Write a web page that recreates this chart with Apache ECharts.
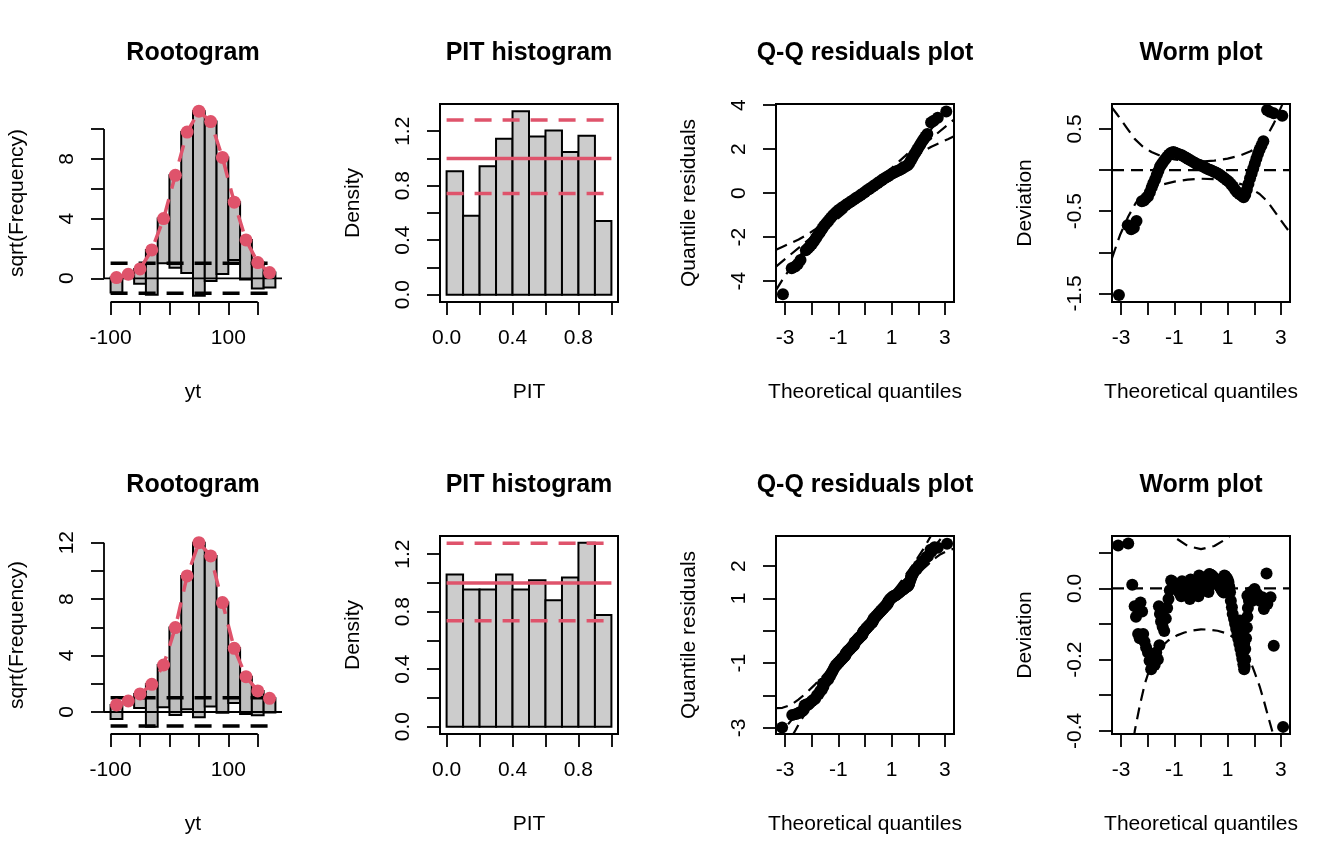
<!DOCTYPE html>
<html><head><meta charset="utf-8">
<script src="https://cdn.jsdelivr.net/npm/echarts/dist/echarts.min.js"></script>
<style>html,body{margin:0;padding:0;background:#fff;}#c{width:1344px;height:864px;}</style>
</head><body><div id="c"></div>
<script>
// ---------- Rootogram data ----------
const rootBinCenters = [-90,-70,-50,-30,-10,10,30,50,70,90,110,130,150,170];
const rootBinWidth = 20;
const rootSqrtObserved = [1,0,1,3,3,6.2,9.45,12.37,10.68,7.81,3.87,2.65,1.73,1];
const rootSqrtExpected1 = [0.05,0.27,0.63,1.9,4.0,6.9,9.8,11.2,10.5,8.1,5.1,2.57,1.05,0.38];
const rootSqrtExpected2 = [0.50,0.78,1.28,1.96,3.33,5.98,9.64,12.0,11.06,7.75,4.51,2.50,1.49,0.97];
const rootRefLevels = [-1, 1];
const rootXTicks = [-100,-50,0,50,100,150];
const rootXLabels = [-100,100];
const rootYTicks1 = [0,2,4,6,8,10];
const rootYLabels1 = [0,4,8];
const rootYTicks2 = [0,2,4,6,8,10,12];
const rootYLabels2 = [0,4,8,12];

// ---------- PIT histogram data ----------
const pitBinCenters = [0.05,0.15,0.25,0.35,0.45,0.55,0.65,0.75,0.85,0.95];
const pitBinWidth = 0.1;
const pitDensity1 = [0.906,0.579,0.942,1.144,1.346,1.161,1.205,1.047,1.166,0.540];
const pitDensity2 = [1.059,0.954,0.954,1.059,0.954,1.019,0.880,1.038,1.279,0.776];
const pitRef = 1;
const pitCI1 = [0.742,1.283];
const pitCI2 = [0.737,1.276];
const pitXTicks = [0,0.2,0.4,0.6,0.8,1.0];
const pitXLabels = [0,0.4,0.8];
const pitYTicks = [0,0.2,0.4,0.6,0.8,1.0,1.2];
const pitYLabels = [0,0.4,0.8,1.2];

// ---------- Residuals (theoretical quantile, deviation) ----------
const theo1 = [-3.08,-2.75,-2.62,-2.52,-2.42,-2.22,-2.14,-2.06,-1.99,-1.92,-1.85,-1.79,-1.72,-1.66,-1.60,-1.54,-1.48,-1.42,-1.35,-1.28,-1.20,-1.12,-1.04,-0.96,-0.88,-0.80,-0.72,-0.64,-0.56,-0.48,-0.40,-0.32,-0.24,-0.16,-0.08,0.00,0.08,0.16,0.24,0.32,0.40,0.48,0.56,0.64,0.72,0.80,0.88,0.96,1.04,1.12,1.20,1.28,1.36,1.44,1.52,1.60,1.66,1.72,1.78,1.84,1.90,1.96,2.02,2.08,2.14,2.20,2.27,2.34,2.48,2.58,2.73,3.05];
const dev1 = [-1.52,-0.67,-0.72,-0.70,-0.62,-0.38,-0.37,-0.34,-0.32,-0.27,-0.21,-0.16,-0.11,-0.06,-0.01,0.04,0.07,0.10,0.13,0.16,0.19,0.21,0.22,0.21,0.20,0.19,0.18,0.165,0.15,0.135,0.12,0.105,0.09,0.075,0.065,0.055,0.045,0.03,0.015,0.005,-0.005,-0.02,-0.03,-0.045,-0.06,-0.08,-0.10,-0.12,-0.14,-0.17,-0.20,-0.24,-0.27,-0.29,-0.31,-0.33,-0.30,-0.24,-0.17,-0.10,-0.04,0.02,0.08,0.14,0.20,0.25,0.30,0.35,0.73,0.71,0.69,0.66];

const theo2 = [-3.11,-2.73,-2.58,-2.49,-2.44,-2.27,-2.21,-2.36,-2.30,-2.17,-2.12,-2.06,-1.99,-1.93,-1.87,-1.80,-1.74,-1.68,-1.62,-1.56,-1.58,-1.54,-1.50,-1.44,-1.38,-1.32,-1.27,-1.22,-1.17,
  -1.12,-1.09,-1.06,-1.03,-1.00,-0.97,-0.94,-0.91,-0.88,-0.85,-0.82,-0.79,-0.76,-0.74,-0.73,-0.72,
  -0.71,-0.68,-0.65,-0.62,-0.59,-0.56,-0.53,-0.50,-0.47,-0.44,-0.42,-0.41,-0.40,
  -0.39,-0.36,-0.33,-0.30,-0.27,-0.24,-0.21,-0.18,-0.15,-0.12,-0.10,-0.09,-0.08,
  -0.07,-0.04,-0.01,0.02,0.05,0.08,0.11,0.14,0.17,0.20,0.23,0.26,0.28,0.29,0.30,
  0.31,0.34,0.37,0.40,0.43,0.46,0.49,0.52,0.55,0.58,0.61,0.64,0.67,0.70,0.73,0.76,0.79,0.82,0.85,0.86,0.87,
  0.88,0.91,0.94,0.97,1.00,1.03,
  1.06,1.09,1.12,1.16,1.19,1.24,1.28,1.32,1.37,1.40,1.44,1.48,1.52,1.55,1.59,1.62,
  1.46,1.50,1.54,1.58,1.62,1.64,1.66,
  1.66,1.69,1.72,1.74,1.76,1.74,1.80,1.86,1.93,2.01,2.11,2.21,2.30,2.36,2.49,2.61,2.46,2.73,3.08];
const dev2 = [0.120,0.126,0.010,-0.050,-0.080,-0.040,-0.065,-0.128,-0.140,-0.128,-0.150,-0.166,-0.180,-0.203,-0.227,-0.194,-0.215,-0.180,-0.200,-0.160,-0.050,-0.072,-0.093,-0.108,-0.120,-0.085,-0.055,-0.030,-0.005,
  0.022,0.020,0.017,0.014,0.011,0.008,0.005,0.002,-0.002,-0.006,-0.010,-0.014,-0.018,-0.022,-0.005,0.010,
  0.020,0.016,0.012,0.008,0.004,0.000,-0.005,-0.010,-0.016,-0.022,-0.030,-0.012,0.008,
  0.025,0.021,0.017,0.013,0.009,0.005,0.000,-0.005,-0.010,-0.016,-0.022,-0.005,0.015,
  0.036,0.033,0.030,0.027,0.024,0.021,0.018,0.014,0.010,0.006,0.002,-0.004,-0.010,0.008,0.025,
  0.040,0.039,0.038,0.036,0.034,0.032,0.030,0.027,0.024,0.021,0.018,0.014,0.010,0.006,0.002,-0.002,-0.006,-0.009,-0.012,0.005,0.020,
  0.036,0.034,0.031,0.028,0.024,0.018,
  0.005,-0.011,-0.035,-0.053,-0.072,-0.086,-0.100,-0.114,-0.128,-0.142,-0.156,-0.170,-0.184,-0.198,-0.213,-0.227,
  -0.090,-0.110,-0.125,-0.140,-0.155,-0.220,-0.200,
  -0.170,-0.140,-0.110,-0.080,-0.055,-0.021,-0.035,-0.011,-0.035,-0.002,-0.016,-0.035,-0.025,-0.058,-0.044,-0.025,0.042,-0.161,-0.389];

// confidence curves (deviation scale)
const upper1X = [-3.34,-3.13,-2.8,-2.49,-2.2,-1.86,-1.5,-1.0,-0.5,0,0.5,1.0,1.5,1.86,2.11,2.45,2.73,3.04,3.34];
const upper1Y = [0.76,0.67,0.52,0.38,0.29,0.22,0.17,0.13,0.11,0.105,0.115,0.14,0.18,0.23,0.28,0.40,0.565,0.79,1.07];
const lower1X = [-3.34,-3.04,-2.73,-2.45,-2.11,-1.86,-1.5,-1.0,-0.5,0,0.5,1.0,1.5,1.86,2.2,2.49,2.8,3.13,3.34];
const lower1Y = [-1.07,-0.79,-0.565,-0.40,-0.28,-0.23,-0.18,-0.14,-0.115,-0.105,-0.11,-0.13,-0.17,-0.22,-0.29,-0.38,-0.52,-0.67,-0.76];
const upper2X = [-3.34,-3.1,-2.8,-2.5,-2.2,-1.9,-1.6,-1.3,-1.06,-0.5,0,0.5,1.0,1.3,1.6,1.9,2.2,2.5,2.8,3.1,3.34];
const upper2Y = [0.95,0.72,0.50,0.37,0.28,0.22,0.18,0.16,0.147,0.119,0.11,0.119,0.141,0.165,0.20,0.26,0.34,0.47,0.62,0.80,1.0];
const lower2X = [-3.34,-3.1,-2.8,-2.6,-2.485,-2.3,-2.112,-1.9,-1.739,-1.5,-1.242,-0.9,-0.621,-0.3,0,0.3,0.621,0.9,1.118,1.4,1.615,1.8,1.988,2.2,2.36,2.52,2.67,2.8,3.1,3.34];
const lower2Y = [-0.95,-0.75,-0.55,-0.46,-0.40,-0.33,-0.269,-0.22,-0.19,-0.165,-0.147,-0.132,-0.124,-0.118,-0.115,-0.116,-0.119,-0.125,-0.133,-0.15,-0.166,-0.195,-0.231,-0.275,-0.316,-0.36,-0.40,-0.45,-0.62,-0.80];

const qqXTicks = [-3,-2,-1,0,1,2,3];
const qqXLabels = [-3,-1,1,3];
const qqYTicks1 = [-4,-2,0,2,4];
const qqYLabels1 = [-4,-2,0,2,4];
const qqYTicks2 = [-3,-2,-1,0,1,2];
const qqYLabels2 = [-3,-1,1,2];
const wormYTicks1 = [-1.5,-1,-0.5,0,0.5];
const wormYLabels1 = [-1.5,-0.5,0.5];
const wormYTicks2 = [-0.4,-0.3,-0.2,-0.1,0,0.1];
const wormYLabels2 = [-0.4,-0.2,0];

// ---------- axis limits ----------
const rootXRange = [-111.2,191.2];
const rootYRange1 = [-1.59,11.68];
const rootYRange2 = [-1.56,12.47];
const pitXRange = [-0.04,1.04];
const pitYRange1 = [-0.054,1.4];
const pitYRange2 = [-0.051,1.326];
const qqXRange = [-3.34,3.34];
const qqYRange1 = [-4.95,4.05];
const qqYRange2 = [-3.19,2.93];
const wormYRange1 = [-1.604,0.804];
const wormYRange2 = [-0.409,0.147];

// ---------- build ----------
const FONT = '"Liberation Sans", Arial, Helvetica, sans-serif';
const FS = 21;
const RED = '#DF536B';
const grids = [], xAxes = [], yAxes = [], series = [], graphics = [];
const fInt = v => String(v);
const f1 = v => Number(v).toFixed(1);

function axis(isY, gi, range, ticks, labels, fmt, name) {
  return {
    type: 'value', gridIndex: gi, min: range[0], max: range[1],
    position: isY ? 'left' : 'bottom',
    axisLine: {show: false, onZero: false}, splitLine: {show: false},
    axisTick: {show: true, inside: false, length: 13, lineStyle: {color: '#000', width: 1.8}, customValues: ticks},
    axisLabel: {show: true, customValues: labels, formatter: fmt, color: '#000', fontSize: FS, fontFamily: FONT, margin: 26, rotate: isY ? 90 : 0},
    name: name, nameLocation: 'middle', nameGap: isY ? 76 : 80, nameRotate: isY ? 90 : 0,
    nameTextStyle: {color: '#000', fontSize: FS, fontFamily: FONT}
  };
}

function addPanel(r, c, cfg) {
  const gi = grids.length;
  grids.push({left: 336*c + 104, top: 432*r + 104, width: 178, height: 198,
    show: !!cfg.box, borderColor: '#000', borderWidth: 2, backgroundColor: 'rgba(0,0,0,0)'});
  xAxes.push(axis(false, gi, cfg.xRange, cfg.xTicks, cfg.xLabels, cfg.xFmt, cfg.xName));
  yAxes.push(axis(true, gi, cfg.yRange, cfg.yTicks, cfg.yLabels, cfg.yFmt, cfg.yName));
  graphics.push({type: 'text', x: 336*c + 193, y: 432*r + 53, z: 10,
    style: {text: cfg.title, font: 'bold 25px ' + FONT, fill: '#000',
      align: 'center', verticalAlign: 'middle', textAlign: 'center', textVerticalAlign: 'middle'}});
  return gi;
}

function seg(gi, data, color, width, type, clip, z) {
  series.push({type: 'line', xAxisIndex: gi, yAxisIndex: gi, data: data, symbol: 'none', showSymbol: false,
    silent: true, clip: clip !== false, z: z || 3, lineStyle: {color: color, width: width, type: type}});
}

function rootogram(r, expected, yRange, yTicks, yLabels) {
  const gi = addPanel(r, 0, {title: 'Rootogram', box: false, xRange: rootXRange, yRange: yRange,
    xTicks: rootXTicks, xLabels: rootXLabels, xFmt: fInt, yTicks: yTicks, yLabels: yLabels, yFmt: fInt,
    xName: 'yt', yName: 'sqrt(Frequency)'});
  const half = rootBinWidth / 2;
  series.push({type: 'custom', xAxisIndex: gi, yAxisIndex: gi, silent: true, z: 2,
    data: rootBinCenters.map((x, i) => [x, expected[i], expected[i] - rootSqrtObserved[i], rootSqrtObserved[i]]).filter(d => d[3] > 0),
    encode: {x: 0, y: [1, 2]},
    renderItem: (p, api) => {
      const a = api.coord([api.value(0) - half, api.value(1)]);
      const b = api.coord([api.value(0) + half, api.value(2)]);
      return {type: 'rect', shape: {x: a[0], y: a[1], width: b[0] - a[0], height: b[1] - a[1]},
        style: {fill: '#BEBEBE', stroke: '#000', lineWidth: 2}};
    }});
  const lo = rootBinCenters[0] - half, hi = rootBinCenters[rootBinCenters.length - 1] + half;
  rootRefLevels.forEach(l => seg(gi, [[lo, l], [hi, l]], '#000', 3.5, [17, 11]));
  seg(gi, [[rootXRange[0], 0], [rootXRange[1], 0]], '#000', 1.8, 'solid');
  series.push({type: 'line', xAxisIndex: gi, yAxisIndex: gi, silent: true, z: 5,
    data: rootBinCenters.map((x, i) => [x, expected[i]]),
    symbol: 'circle', symbolSize: 13, itemStyle: {color: RED, opacity: 1},
    lineStyle: {color: RED, width: 3.5, type: [17, 11]}});
  seg(gi, [[rootXRange[0], yTicks[0]], [rootXRange[0], yTicks[yTicks.length - 1]]], '#000', 1.8, 'solid', false);
  seg(gi, [[rootXTicks[0], yRange[0]], [rootXTicks[rootXTicks.length - 1], yRange[0]]], '#000', 1.8, 'solid', false);
}

function pithist(r, dens, ci, yRange) {
  const gi = addPanel(r, 1, {title: 'PIT histogram', box: true, xRange: pitXRange, yRange: yRange,
    xTicks: pitXTicks, xLabels: pitXLabels, xFmt: f1, yTicks: pitYTicks, yLabels: pitYLabels, yFmt: f1,
    xName: 'PIT', yName: 'Density'});
  const half = pitBinWidth / 2;
  series.push({type: 'custom', xAxisIndex: gi, yAxisIndex: gi, silent: true, z: 2,
    data: pitBinCenters.map((x, i) => [x, dens[i]]),
    encode: {x: 0, y: 1},
    renderItem: (p, api) => {
      const a = api.coord([api.value(0) - half, api.value(1)]);
      const b = api.coord([api.value(0) + half, 0]);
      return {type: 'rect', shape: {x: a[0], y: a[1], width: b[0] - a[0], height: b[1] - a[1]},
        style: {fill: '#CCCCCC', stroke: '#000', lineWidth: 2}};
    }});
  const lo = pitBinCenters[0] - half, hi = pitBinCenters[pitBinCenters.length - 1] + half;
  seg(gi, [[lo, pitRef], [hi, pitRef]], RED, 3.5, 'solid', true, 4);
  ci.forEach(v => seg(gi, [[lo, v], [hi, v]], RED, 3.5, [17, 11], true, 4));
}

function qqplot(r, theo, dev, uX, uY, lX, lY, yRange, yTicks, yLabels) {
  const gi = addPanel(r, 2, {title: 'Q-Q residuals plot', box: true, xRange: qqXRange, yRange: yRange,
    xTicks: qqXTicks, xLabels: qqXLabels, xFmt: fInt, yTicks: yTicks, yLabels: yLabels, yFmt: fInt,
    xName: 'Theoretical quantiles', yName: 'Quantile residuals'});
  seg(gi, [[qqXRange[0], qqXRange[0]], [qqXRange[1], qqXRange[1]]], '#000', 2.2, [12, 7]);
  seg(gi, uX.map((x, i) => [x, x + uY[i]]), '#000', 2.2, [12, 7]);
  seg(gi, lX.map((x, i) => [x, x + lY[i]]), '#000', 2.2, [12, 7]);
  series.push({type: 'scatter', xAxisIndex: gi, yAxisIndex: gi, silent: true, z: 4,
    data: theo.map((x, i) => [x, x + dev[i]]), symbol: 'circle', symbolSize: 12, itemStyle: {color: '#000', opacity: 1}});
}

function wormplot(r, theo, dev, uX, uY, lX, lY, yRange, yTicks, yLabels) {
  const gi = addPanel(r, 3, {title: 'Worm plot', box: true, xRange: qqXRange, yRange: yRange,
    xTicks: qqXTicks, xLabels: qqXLabels, xFmt: fInt, yTicks: yTicks, yLabels: yLabels, yFmt: f1,
    xName: 'Theoretical quantiles', yName: 'Deviation'});
  seg(gi, [[qqXRange[0], 0], [qqXRange[1], 0]], '#000', 2.2, [12, 7]);
  seg(gi, uX.map((x, i) => [x, uY[i]]), '#000', 2.2, [12, 7]);
  seg(gi, lX.map((x, i) => [x, lY[i]]), '#000', 2.2, [12, 7]);
  series.push({type: 'scatter', xAxisIndex: gi, yAxisIndex: gi, silent: true, z: 4,
    data: theo.map((x, i) => [x, dev[i]]), symbol: 'circle', symbolSize: 12, itemStyle: {color: '#000', opacity: 1}});
}

rootogram(0, rootSqrtExpected1, rootYRange1, rootYTicks1, rootYLabels1);
pithist(0, pitDensity1, pitCI1, pitYRange1);
qqplot(0, theo1, dev1, upper1X, upper1Y, lower1X, lower1Y, qqYRange1, qqYTicks1, qqYLabels1);
wormplot(0, theo1, dev1, upper1X, upper1Y, lower1X, lower1Y, wormYRange1, wormYTicks1, wormYLabels1);
rootogram(1, rootSqrtExpected2, rootYRange2, rootYTicks2, rootYLabels2);
pithist(1, pitDensity2, pitCI2, pitYRange2);
qqplot(1, theo2, dev2, upper2X, upper2Y, lower2X, lower2Y, qqYRange2, qqYTicks2, qqYLabels2);
wormplot(1, theo2, dev2, upper2X, upper2Y, lower2X, lower2Y, wormYRange2, wormYTicks2, wormYLabels2);

const chart = echarts.init(document.getElementById('c'), null, {renderer: 'canvas'});
chart.setOption({
  animation: false,
  backgroundColor: '#fff',
  textStyle: {fontFamily: FONT},
  grid: grids, xAxis: xAxes, yAxis: yAxes, series: series, graphic: graphics
});
</script></body></html>
